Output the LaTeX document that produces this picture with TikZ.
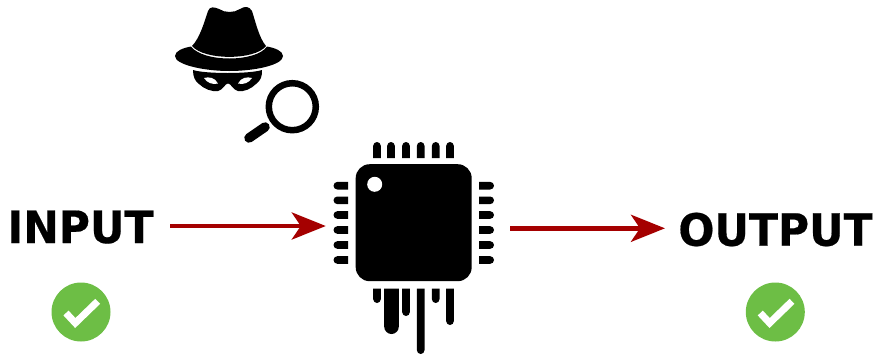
\documentclass[tikz,border=0pt]{standalone}
\usepackage{fontspec}
\setmainfont{DejaVu Sans}[FakeStretch=0.955,BoldFeatures={FakeBold=0.4}]
\usetikzlibrary{arrows.meta}
\definecolor{darkred}{HTML}{A50000}
\definecolor{okgreen}{HTML}{6DBE45}
\tikzset{
  label text/.style={font=\fontsize{44.5}{44.5}\selectfont\bfseries, inner sep=0pt, text=black},
  flow/.style={draw=darkred, line width=4.6pt, -{Stealth[length=34pt,width=27pt,inset=9pt]}},
  okdisc/.style={circle, fill=okgreen, minimum size=59pt, inner sep=0pt},
  tick/.style={draw=white, line width=7pt, line join=miter},
  zone/.style={inner sep=0pt, minimum width=184pt, minimum height=100pt},
}
\begin{document}
\begin{tikzpicture}[x=1pt,y=-1pt]
\useasboundingbox (0,0) rectangle (876,354);

% labels
\node[label text, anchor=base] (input) at (80.5,243) {INPUT};
\node[label text, anchor=base] (output) at (775.5,245.7) {OUTPUT};
\node[zone] (chipzone) at (418,226) {};

% chip pins: top, left, right
\foreach \x in {377,391,406,420.7,435.7,450}
  \fill[black] (\x-3.8,158) -- (\x-3.8,145.8) arc[start angle=180,end angle=0,radius=3.8pt] -- (\x+3.8,158) -- cycle;
\foreach \y in {185.7,200.3,215,230,245,260}{
  \fill[black] (348,\y-3.8) -- (337.3,\y-3.8) arc[start angle=90,end angle=270,radius=3.8pt] -- (348,\y+3.8) -- cycle;
  \fill[black] (479,\y-3.8) -- (490.2,\y-3.8) arc[start angle=90,end angle=-90,radius=3.8pt] -- (479,\y+3.8) -- cycle;
}
\node[fill=black, rounded corners=14pt, minimum width=116pt, minimum height=117pt, inner sep=0pt] (chip) at (413.7,222.7) {};
\node[circle, fill=white, minimum size=15pt, inner sep=0pt] (hole) at (374.7,184.3) {};
% dripping pins
\foreach \x/\w/\e in {377/3.8/303,391.5/7.3/334,406/3.8/316,420.7/3.8/354,435.7/3.8/303,450/3.8/325}
  \fill[black] (\x-\w,288.7) -- (\x+\w,288.7) -- (\x+\w,\e-\w) arc[start angle=0,end angle=-180,radius=\w pt] -- cycle;

% arrows
\coordinate (inmid) at (input.west |- 0,226);
\coordinate (outmid) at (output.east |- 0,228.3);
\draw[flow] ([xshift=170pt]inmid -| 0,0) -- (inmid -| chipzone.west);
\draw[flow] (outmid -| chipzone.east) -- ([xshift=665pt]outmid -| 0,0);

% checks
\node[okdisc] (okin) at (81,312) {};
\node[okdisc] (okout) at (775.3,312) {};
\foreach \n in {okin,okout}
  \draw[tick] ([shift={(-15,1)}]\n.center) -- ([shift={(-5.7,11)}]\n.center) -- ([shift={(16.7,-10.7)}]\n.center);

% spy hat
\fill[black] (192,46)
  .. controls (200,38) and (205,20) .. (208,11)
  .. controls (210,6) and (214,7) .. (219,9)
  .. controls (225,13) and (234,13) .. (240,9)
  .. controls (245,6) and (249,6) .. (252,11)
  .. controls (255,20) and (259,38) .. (266,46)
  .. controls (255,60.5) and (204,60.5) .. (192,46) -- cycle;
\fill[black] (191,46.5)
  .. controls (183,48) and (175,51) .. (175,56)
  .. controls (175,65) and (205,71) .. (229,71)
  .. controls (255,71) and (283,65) .. (283,56)
  .. controls (283,51) and (275,48) .. (267,46.5)
  .. controls (256,62.5) and (203,62.5) .. (191,46.5) -- cycle;
% mask
\fill[black] (193,70)
  .. controls (205,74) and (250,74) .. (262,70)
  .. controls (262,77) and (261,80) .. (256,84)
  .. controls (251,89) and (244,92) .. (238,91)
  .. controls (233,90) and (231,83.5) .. (228,83.5)
  .. controls (225,83.5) and (223,90) .. (218,91)
  .. controls (212,92) and (204,89) .. (199,84)
  .. controls (195,81) and (193,77) .. (193,70) -- cycle;
\fill[white] (204,78) .. controls (209,76.5) and (215,77.5) .. (218,83.5)
  .. controls (213,85) and (207,83) .. (204,78) -- cycle;
\fill[white] (252,78) .. controls (247,76.5) and (241,77.5) .. (238,83.5)
  .. controls (243,85) and (249,83) .. (252,78) -- cycle;

% magnifier
\draw[black, line width=6.5pt] (292.3,106.7) circle[radius=23.5pt];
\draw[black, line width=9.5pt, line cap=round] (249,138) -- (265,127);
\end{tikzpicture}
\end{document}
